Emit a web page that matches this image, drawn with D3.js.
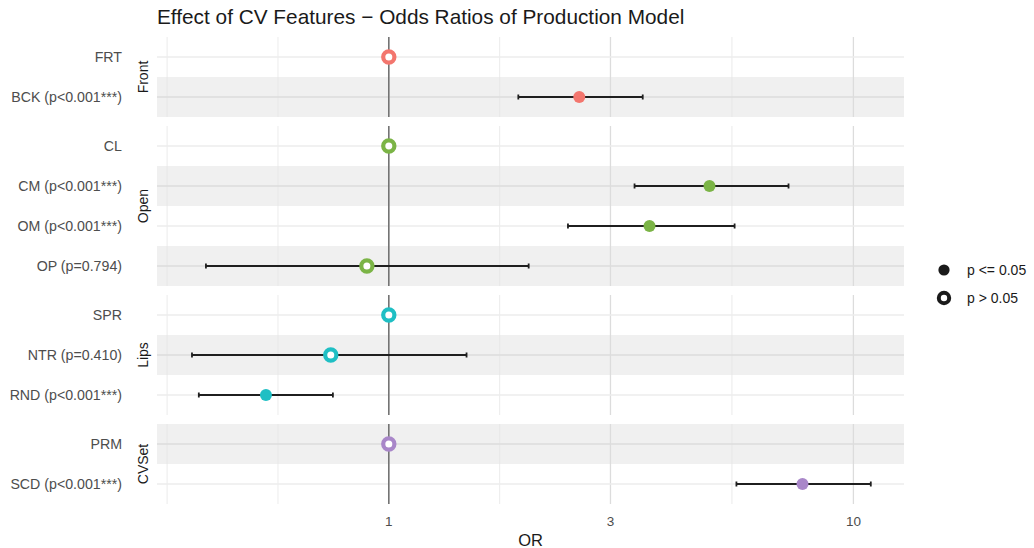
<!DOCTYPE html>
<meta charset="utf-8">
<head>
  <title>Effect of CV Features - Odds Ratios</title>
  <script src="https://d3js.org/d3.v7.min.js"></script>
  <style>
    body { margin: 0; background: white; }
    text { font-family: "Liberation Sans", Arial, sans-serif; }
  </style>
</head>
<body>
  <div id="chart"></div>
  <script>
    // data
    var terms  = ["FRT", "BCK", "CL", "CM", "OM", "OP", "SPR", "NTR", "RND", "PRM", "SCD"];
    var labels = ["FRT", "BCK (p<0.001***)", "CL", "CM (p<0.001***)", "OM (p<0.001***)",
                  "OP (p=0.794)", "SPR", "NTR (p=0.410)", "RND (p<0.001***)", "PRM", "SCD (p<0.001***)"];
    var groups = ["Front", "Front", "Open", "Open", "Open", "Open", "Lips", "Lips", "Lips", "CVSet", "CVSet"];
    var oddsRatio = [1, 2.57, 1, 4.90, 3.64, 0.897, 1, 0.750, 0.544, 1, 7.77];
    var ciLow  = [null, 1.90, null, 3.38, 2.43, 0.404, null, 0.377, 0.390, null, 5.60];
    var ciHigh = [null, 3.52, null, 7.25, 5.55, 2.00, null, 1.47, 0.758, null, 10.9];
    var significant = [false, true, false, true, true, false, false, false, true, false, true];

    var facets = ["Front", "Open", "Lips", "CVSet"];
    var facetColor = { "Front": "#F3766E", "Open": "#7BB446", "Lips": "#1FBFC4", "CVSet": "#A987C9" };
    var xBreaks = [1, 3, 10];
    var xMinor = [1 / 3, Math.sqrt(1 / 3), Math.sqrt(3), Math.sqrt(30)];

    var data = terms.map(function (t, i) {
      return { term: t, label: labels[i], group: groups[i], or: oddsRatio[i],
               lo: ciLow[i], hi: ciHigh[i], sig: significant[i], idx: i };
    });

    var W = 1034, H = 548;
    var panelLeft = 157, panelRight = 904, panelTop = 37;
    var rowH = 40, gap = 9;

    var svg = d3.select("#chart").append("svg")
      .attr("width", W).attr("height", H);

    var x = d3.scaleLog()
      .domain([0.317, 12.85])
      .range([panelLeft, panelRight]);

    svg.append("text")
      .attr("x", panelLeft).attr("y", 24)
      .attr("font-size", 20.8).attr("fill", "#1a1a1a")
      .text("Effect of CV Features \u2212 Odds Ratios of Production Model");

    var yTop = panelTop;
    facets.forEach(function (f) {
      var rows = data.filter(function (d) { return d.group === f; });
      var h = rows.length * rowH;
      var y = d3.scaleBand().domain(rows.map(function (d) { return d.term; }))
        .range([yTop, yTop + h]);
      var g = svg.append("g");

      // alternating shaded rows (global index)
      g.selectAll("rect.band").data(rows.filter(function (d) { return d.idx % 2 === 1; }))
        .enter().append("rect")
        .attr("x", panelLeft).attr("width", panelRight - panelLeft)
        .attr("y", function (d) { return y(d.term); })
        .attr("height", y.bandwidth())
        .attr("fill", "#f0f0f0");

      // grid
      g.selectAll("line.minor").data(xMinor).enter().append("line")
        .attr("x1", function (d) { return x(d); }).attr("x2", function (d) { return x(d); })
        .attr("y1", yTop).attr("y2", yTop + h)
        .attr("stroke", "#e6e6e6").attr("stroke-width", 0.8);
      g.selectAll("line.major").data(xBreaks).enter().append("line")
        .attr("x1", function (d) { return x(d); }).attr("x2", function (d) { return x(d); })
        .attr("y1", yTop).attr("y2", yTop + h)
        .attr("stroke", "#dcdcdc").attr("stroke-width", 1.3);
      g.selectAll("line.hgrid").data(rows).enter().append("line")
        .attr("x1", panelLeft).attr("x2", panelRight)
        .attr("y1", function (d) { return y(d.term) + y.bandwidth() / 2; })
        .attr("y2", function (d) { return y(d.term) + y.bandwidth() / 2; })
        .attr("stroke", function (d) { return d.idx % 2 === 1 ? "#dcdcdc" : "#ececec"; })
        .attr("stroke-width", 1.3);

      // reference line at OR = 1
      g.append("line")
        .attr("x1", x(1)).attr("x2", x(1))
        .attr("y1", yTop).attr("y2", yTop + h)
        .attr("stroke", "#6e6e6e").attr("stroke-width", 1.5);

      // y labels
      g.selectAll("text.ylab").data(rows).enter().append("text")
        .attr("x", 122)
        .attr("y", function (d) { return y(d.term) + y.bandwidth() / 2; })
        .attr("dy", "0.35em")
        .attr("text-anchor", "end")
        .attr("font-size", 14.2).attr("fill", "#4d4d4d")
        .text(function (d) { return d.label; });

      // strip label
      g.append("text")
        .attr("transform", "translate(148," + (yTop + h / 2) + ") rotate(-90)")
        .attr("text-anchor", "middle")
        .attr("font-size", 14).attr("fill", "#1a1a1a")
        .text(f);

      // error bars
      var ci = rows.filter(function (d) { return d.lo !== null; });
      var eb = g.selectAll("g.eb").data(ci).enter().append("g")
        .attr("stroke", "#1f1f1f").attr("stroke-width", 1.8);
      eb.append("line")
        .attr("x1", function (d) { return x(d.lo); }).attr("x2", function (d) { return x(d.hi); })
        .attr("y1", function (d) { return y(d.term) + y.bandwidth() / 2; })
        .attr("y2", function (d) { return y(d.term) + y.bandwidth() / 2; });
      ["lo", "hi"].forEach(function (k) {
        eb.append("line")
          .attr("x1", function (d) { return x(d[k]); }).attr("x2", function (d) { return x(d[k]); })
          .attr("y1", function (d) { return y(d.term) + y.bandwidth() / 2 - 2.5; })
          .attr("y2", function (d) { return y(d.term) + y.bandwidth() / 2 + 2.5; });
      });

      // points
      g.selectAll("circle.pt").data(rows).enter().append("circle")
        .attr("cx", function (d) { return x(d.or); })
        .attr("cy", function (d) { return y(d.term) + y.bandwidth() / 2; })
        .attr("r", function (d) { return d.sig ? 6 : 5.6; })
        .attr("fill", function (d) { return d.sig ? facetColor[f] : "white"; })
        .attr("stroke", facetColor[f])
        .attr("stroke-width", function (d) { return d.sig ? 0 : 4.2; });

      yTop += h + gap;
    });

    var bottom = yTop - gap;

    // x axis labels
    svg.selectAll("text.xlab").data(xBreaks).enter().append("text")
      .attr("x", function (d) { return x(d); })
      .attr("y", bottom + 22)
      .attr("text-anchor", "middle")
      .attr("font-size", 13.5).attr("fill", "#4d4d4d")
      .text(function (d) { return d; });

    svg.append("text")
      .attr("x", (panelLeft + panelRight) / 2).attr("y", bottom + 42)
      .attr("text-anchor", "middle")
      .attr("font-size", 16.5).attr("fill", "#1a1a1a")
      .text("OR");

    // legend
    var legendItems = [{ sig: true, label: "p <= 0.05" }, { sig: false, label: "p > 0.05" }];
    var lg = svg.append("g");
    lg.selectAll("circle").data(legendItems).enter().append("circle")
      .attr("cx", 944)
      .attr("cy", function (d, i) { return 270 + i * 28; })
      .attr("r", function (d) { return d.sig ? 5.6 : 5.2; })
      .attr("fill", function (d) { return d.sig ? "#1a1a1a" : "white"; })
      .attr("stroke", "#1a1a1a")
      .attr("stroke-width", function (d) { return d.sig ? 0 : 4; });
    lg.selectAll("text").data(legendItems).enter().append("text")
      .attr("x", 967)
      .attr("y", function (d, i) { return 270 + i * 28; })
      .attr("dy", "0.35em")
      .attr("font-size", 14).attr("fill", "#1a1a1a")
      .text(function (d) { return d.label; });
  </script>
</body>
</html>
